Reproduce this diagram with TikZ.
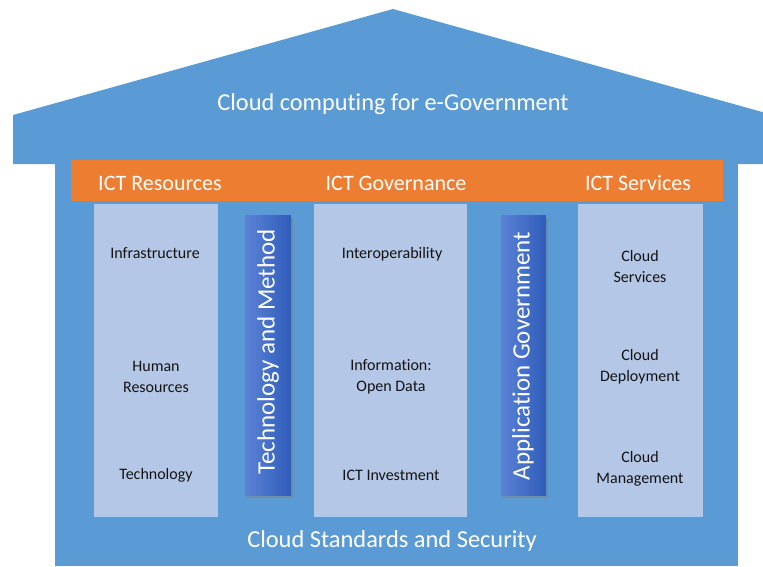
\documentclass[tikz,border=0pt]{standalone}
\usepackage{fontspec}
\setmainfont{Carlito}[Ligatures=NoCommon]
\usetikzlibrary{shadows}
\definecolor{houseblue}{HTML}{5B9BD5}
\definecolor{barorange}{HTML}{ED7D31}
\definecolor{collight}{HTML}{B4C7E7}
\definecolor{pillarL}{HTML}{5B82D6}
\definecolor{pillarR}{HTML}{2F5DBA}
\definecolor{bodyink}{HTML}{141414}
\tikzset{
  colbox/.style={fill=collight, draw=none},
  pillar/.style={left color=pillarL, right color=pillarR, draw=none,
    drop shadow={shadow xshift=1.5pt, shadow yshift=-3pt, opacity=0.45}},
  whitetxt/.style={text=white, inner sep=0pt},
  bodytxt/.style={text=bodyink, font=\fontsize{16}{21}\selectfont, align=center, inner sep=0pt},
  headtxt/.style={text=white, font=\fontsize{22}{26}\selectfont, inner sep=0pt},
  piltxt/.style={text=white, font=\fontsize{25}{28}\selectfont, inner sep=0pt, rotate=90}
}
\begin{document}
\begin{tikzpicture}[x=1pt,y=-1pt]
\useasboundingbox (0,0) rectangle (763,566);
% roof
\fill[houseblue] (13,164) -- (13,115) -- (393,9) -- (773,115) -- (773,164) -- cycle;
% body
\fill[houseblue] (55,160) rectangle (738,566);
% orange bar
\fill[barorange] (71,160) rectangle (723,201);
% columns
\fill[colbox] (94,204) rectangle (218,517);
\fill[colbox] (314,204) rectangle (467,517);
\fill[colbox] (578,204) rectangle (703,517);
% pillars
\path[pillar] (245,215) rectangle (291,495);
\path[pillar] (501,215) rectangle (546,495);
% texts
\node[whitetxt, font=\fontsize{24.3}{28}\selectfont] (title) at (393,104.5) {Cloud computing for e-Government};
\node[headtxt] (h1) at (160,183) {ICT Resources};
\node[headtxt] (h2) at (396,183) {ICT Governance};
\node[headtxt] (h3) at (638,183) {ICT Services};
\node[bodytxt] (c1a) at (155,253) {Infrastructure};
\node[bodytxt] (c1b) at (156,377) {Human\\Resources};
\node[bodytxt] (c1c) at (156,475) {Technology};
\node[bodytxt] (c2a) at (392,254) {Interoperability};
\node[bodytxt] (c2b) at (391,377) {Information:\\Open Data};
\node[bodytxt] (c2c) at (391,475) {ICT Investment};
\node[bodytxt] (c3a) at (640,266) {Cloud\\Services};
\node[bodytxt] (c3b) at (640,367) {Cloud\\Deployment};
\node[bodytxt] (c3c) at (640,469) {Cloud\\Management};
\node[piltxt] (p1) at (268,352) {Technology and Method};
\node[piltxt] (p2) at (523,356) {Application Government};
\node[whitetxt, font=\fontsize{24.4}{28}\selectfont] (base) at (392,541) {Cloud Standards and Security};
\end{tikzpicture}
\end{document}
